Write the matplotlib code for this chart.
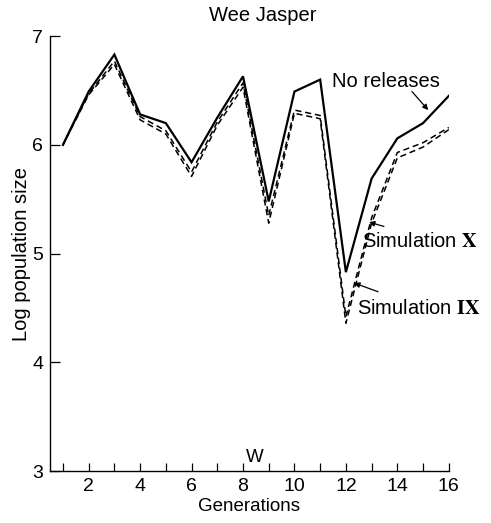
import matplotlib
matplotlib.use('Agg')
import matplotlib.pyplot as plt

# generations and log population sizes at Wee Jasper
generations = list(range(1, 17))
no_releases = [6.00, 6.49, 6.83, 6.28, 6.20, 5.84, 6.25, 6.63, 5.48, 6.49, 6.60,
               4.83, 5.69, 6.06, 6.20, 6.45]
simulation_x = [6.00, 6.47, 6.77, 6.26, 6.13, 5.75, 6.21, 6.57, 5.35, 6.32, 6.27,
                4.42, 5.33, 5.93, 6.02, 6.16]
simulation_ix = [6.00, 6.46, 6.74, 6.23, 6.10, 5.71, 6.18, 6.53, 5.28, 6.29, 6.24,
                 4.36, 5.28, 5.88, 5.98, 6.14]
y_ticks = [3, 4, 5, 6, 7]
x_labels = ['', '2', '', '4', '', '6', '', '8', '', '10', '', '12', '', '14', '', '16']


def main():
    plt.rcParams['font.family'] = ['Liberation Sans', 'DejaVu Sans']
    plt.rcParams['mathtext.fontset'] = 'stix'

    fig = plt.figure(figsize=(4.91, 5.23), dpi=100)
    ax = fig.add_axes([0.102, 0.099, 0.812, 0.832])

    ax.plot(generations, no_releases, color='black', lw=1.6, solid_joinstyle='miter')
    ax.plot(generations, simulation_x, color='black', lw=1.1, ls=(0, (4, 2.5)))
    ax.plot(generations, simulation_ix, color='black', lw=1.1, ls=(2, (4, 2.5)))

    ax.set_xlim(0.5, 16)
    ax.set_ylim(3, 7)
    ax.set_xticks(generations)
    ax.set_xticklabels(x_labels)
    ax.set_yticks(y_ticks)
    ax.tick_params(direction='in', length=6, width=0.9, labelsize=14, pad=5)
    ax.tick_params(axis='y', length=7)

    for side in ('top', 'right'):
        ax.spines[side].set_visible(False)
    ax.spines['left'].set_linewidth(1.0)
    ax.spines['bottom'].set_linewidth(1.0)

    ax.set_xlabel('Generations', fontsize=13.5, labelpad=2)
    ax.set_ylabel('Log population size', fontsize=14.5, labelpad=1)
    ax.set_title('Wee Jasper', fontsize=14.5, x=0.534, pad=11)

    ax.text(8.45, 3.05, 'W', fontsize=13.5, ha='center', va='bottom')

    # curve labels with pointer arrows
    arrow = dict(arrowstyle='-|>', color='black', lw=0.9, mutation_scale=8,
                 shrinkA=0, shrinkB=0)
    ax.text(11.45, 6.58, 'No releases', fontsize=14.5, ha='left', va='center')
    ax.annotate('', xy=(15.2, 6.32), xytext=(14.57, 6.49), arrowprops=arrow)

    ax.text(12.63, 5.11, r'Simulation $\mathbf{X}$', fontsize=14.5, ha='left', va='center')
    ax.annotate('', xy=(12.9, 5.29), xytext=(13.48, 5.25), arrowprops=arrow)

    ax.text(12.43, 4.50, r'Simulation $\mathbf{IX}$', fontsize=14.5, ha='left', va='center')
    ax.annotate('', xy=(12.32, 4.73), xytext=(13.25, 4.65), arrowprops=arrow)

    fig.savefig('out.png', dpi=100)


if __name__ == '__main__':
    main()
